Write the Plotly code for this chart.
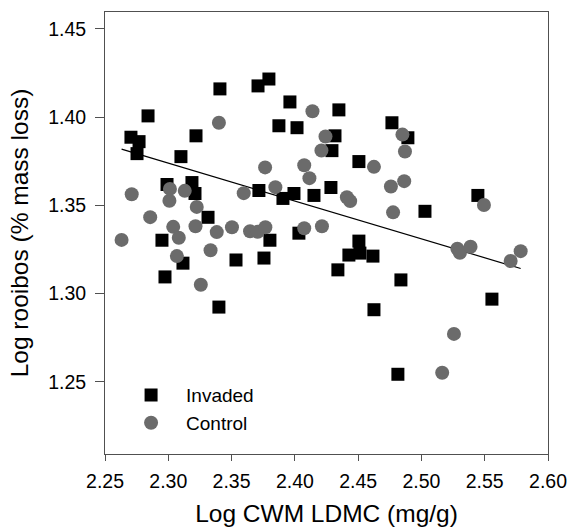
import plotly.graph_objects as go
import numpy as np

# Invaded plots (squares)
invaded_x = [2.2705, 2.2769, 2.2753, 2.2840, 2.3219, 2.3100, 2.3408, 2.3709, 2.3795, 2.3961,
             2.3874, 2.4017, 2.2990, 2.3187, 2.3211, 2.3314, 2.3716, 2.3906, 2.3993, 2.4151,
             2.4348, 2.4767, 2.4317, 2.4893, 2.4293, 2.4506, 2.4285, 2.5446, 2.5028, 2.2950,
             2.3116, 2.2974, 2.3535, 2.3756, 2.3803, 2.4032, 2.3400, 2.4506, 2.4427, 2.4514,
             2.4617, 2.4340, 2.4838, 2.4625, 2.4814, 2.5557]
invaded_y = [1.3886, 1.3861, 1.3793, 1.4007, 1.3894, 1.3776, 1.4160, 1.4177, 1.4216, 1.4086,
             1.3951, 1.3940, 1.3618, 1.3629, 1.3567, 1.3432, 1.3584, 1.3539, 1.3567, 1.3556,
             1.4041, 1.3968, 1.3894, 1.3883, 1.3810, 1.3748, 1.3601, 1.3556, 1.3466, 1.3302,
             1.3172, 1.3094, 1.3190, 1.3201, 1.3302, 1.3342, 1.2923, 1.3297, 1.3218, 1.3229,
             1.3212, 1.3134, 1.3077, 1.2908, 1.2542, 1.2968]

# Control plots (circles)
control_x = [2.2631, 2.2711, 2.2857, 2.3009, 2.3013, 2.3039, 2.3068, 2.3083, 2.3130, 2.3215,
             2.3225, 2.3257, 2.3334, 2.3383, 2.3400, 2.3503, 2.3596, 2.3646, 2.3707, 2.3765,
             2.3767, 2.3846, 2.4074, 2.4115, 2.4139, 2.4074, 2.4214, 2.4242, 2.4210, 2.4411,
             2.4437, 2.4625, 2.4759, 2.4776, 2.4850, 2.4870, 2.4864, 2.5494, 2.5284, 2.5304,
             2.5388, 2.5705, 2.5784, 2.5257, 2.5164]
control_y = [1.3304, 1.3563, 1.3433, 1.3526, 1.3593, 1.3378, 1.3212, 1.3316, 1.3582, 1.3381,
             1.3491, 1.3050, 1.3245, 1.3348, 1.3968, 1.3376, 1.3569, 1.3353, 1.3350, 1.3715,
             1.3376, 1.3603, 1.3727, 1.3654, 1.4033, 1.3370, 1.3381, 1.3890, 1.3811, 1.3546,
             1.3524, 1.3718, 1.3607, 1.3460, 1.3901, 1.3805, 1.3637, 1.3502, 1.3254, 1.3231,
             1.3265, 1.3184, 1.3240, 1.2771, 1.2551]

# Regression line: y = intercept + slope * x
fit_intercept = 1.8675
fit_slope = -0.2146

all_x = np.array(invaded_x + control_x)
line_x = np.array([all_x.min(), all_x.max()])
line_y = fit_intercept + fit_slope * line_x

font_family = "Liberation Sans, Arial, sans-serif"
axis_col = "#505050"

fig = go.Figure()
fig.add_trace(go.Scatter(
    x=line_x, y=line_y, mode="lines",
    line=dict(color="black", width=1.2), showlegend=False, hoverinfo="skip"))
fig.add_trace(go.Scatter(
    x=invaded_x, y=invaded_y, mode="markers", name="Invaded",
    marker=dict(symbol="square", size=13, color="black")))
fig.add_trace(go.Scatter(
    x=control_x, y=control_y, mode="markers", name="Control",
    marker=dict(symbol="circle", size=14, color="#6b6b6b")))

fig.update_layout(
    width=569, height=529,
    margin=dict(l=105, r=21, t=12, b=75),
    paper_bgcolor="white", plot_bgcolor="white",
    font=dict(family=font_family, color="black", size=19),
    legend=dict(x=0.025, y=0.176, xanchor="left", yanchor="top",
                bgcolor="rgba(0,0,0,0)", font=dict(size=19),
                itemwidth=60, tracegroupgap=0),
)
fig.update_xaxes(
    range=[2.25, 2.60], tickmode="linear", tick0=2.25, dtick=0.05, tickformat=".2f",
    ticks="outside", ticklen=6, tickcolor=axis_col, showline=True, linecolor=axis_col,
    linewidth=1, mirror=True, showgrid=False, zeroline=False, automargin=False,
    tickfont=dict(size=19.5), ticklabelstandoff=4,
    title=dict(text="Log CWM LDMC (mg/g)", font=dict(size=24.5), standoff=13))
fig.update_yaxes(
    range=[1.209, 1.4596], tickmode="linear", tick0=1.25, dtick=0.05, tickformat=".2f",
    ticks="outside", ticklen=9, tickcolor=axis_col, showline=True, linecolor=axis_col,
    linewidth=1, mirror=True, showgrid=False, zeroline=False, automargin=False,
    tickfont=dict(size=19.5), ticklabelstandoff=5,
    title=dict(text="Log rooibos (% mass loss)", font=dict(size=24.5), standoff=12))

fig.write_html(
    "out.html",
    config={"displayModeBar": False},
    post_script="document.body.style.margin='0';document.body.style.overflow='hidden';")
